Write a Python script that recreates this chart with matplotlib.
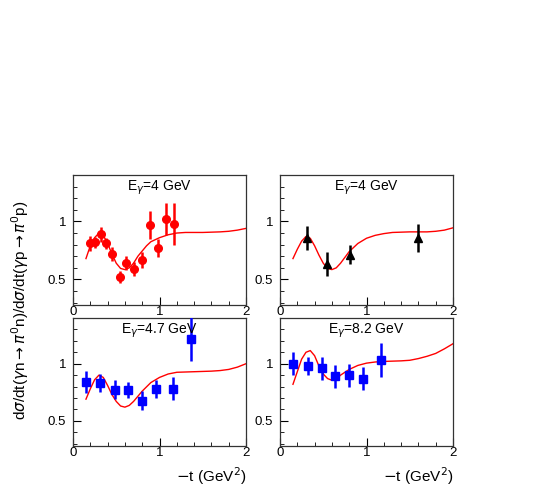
import numpy as np
import matplotlib.pyplot as plt
from matplotlib.ticker import MultipleLocator

# data points: -t, ratio, error
x_tl = [0.2, 0.26, 0.32, 0.385, 0.45, 0.54, 0.615, 0.71, 0.8, 0.885, 0.98, 1.07, 1.17]
y_tl = [0.81, 0.82, 0.89, 0.81, 0.72, 0.52, 0.64, 0.59, 0.67, 0.97, 0.77, 1.02, 0.98]
e_tl = [0.065, 0.05, 0.065, 0.05, 0.06, 0.05, 0.06, 0.06, 0.07, 0.12, 0.08, 0.14, 0.18]

x_tr = [0.31, 0.54, 0.81, 1.6]
y_tr = [0.857, 0.634, 0.714, 0.857]
e_tr = [0.1, 0.1, 0.085, 0.12]

x_bl = [0.154, 0.315, 0.48, 0.635, 0.8, 0.96, 1.16, 1.365]
y_bl = [0.84, 0.83, 0.774, 0.774, 0.678, 0.78, 0.78, 1.22]
e_bl = [0.1, 0.08, 0.08, 0.07, 0.08, 0.08, 0.1, 0.2]

x_br = [0.154, 0.32, 0.48, 0.64, 0.8, 0.96, 1.165]
y_br = [1.0, 0.98, 0.96, 0.89, 0.9, 0.87, 1.03]
e_br = [0.1, 0.08, 0.1, 0.1, 0.1, 0.1, 0.15]

# model curves
cx_tl = [0.15, 0.2, 0.25, 0.3, 0.35, 0.4, 0.45, 0.5, 0.55, 0.6, 0.65, 0.7, 0.75, 0.8, 0.85, 0.9, 1.0, 1.1, 1.2, 1.3, 1.5, 1.7, 1.8, 1.9, 2.0]
cy_tl = [0.68, 0.79, 0.86, 0.9, 0.88, 0.81, 0.72, 0.64, 0.595, 0.585, 0.6, 0.64, 0.7, 0.745, 0.79, 0.825, 0.86, 0.885, 0.9, 0.905, 0.905, 0.91, 0.915, 0.925, 0.94]

cx_tr = [0.15, 0.2, 0.25, 0.3, 0.35, 0.4, 0.45, 0.5, 0.55, 0.6, 0.65, 0.7, 0.75, 0.8, 0.9, 1.0, 1.1, 1.2, 1.3, 1.5, 1.7, 1.8, 1.9, 2.0]
cy_tr = [0.68, 0.76, 0.83, 0.87, 0.855, 0.79, 0.71, 0.64, 0.595, 0.585, 0.6, 0.64, 0.69, 0.74, 0.81, 0.855, 0.88, 0.895, 0.905, 0.91, 0.91, 0.915, 0.925, 0.945]

cx_bl = [0.15, 0.2, 0.25, 0.3, 0.35, 0.4, 0.45, 0.5, 0.55, 0.6, 0.65, 0.7, 0.8, 0.9, 1.0, 1.1, 1.2, 1.4, 1.6, 1.7, 1.8, 1.9, 2.0]
cy_bl = [0.69, 0.78, 0.86, 0.9, 0.88, 0.81, 0.73, 0.67, 0.63, 0.62, 0.635, 0.67, 0.76, 0.835, 0.88, 0.91, 0.925, 0.93, 0.935, 0.94, 0.95, 0.97, 1.0]

cx_br = [0.15, 0.2, 0.25, 0.3, 0.35, 0.4, 0.45, 0.5, 0.55, 0.6, 0.65, 0.7, 0.8, 0.9, 1.0, 1.1, 1.2, 1.4, 1.5, 1.6, 1.7, 1.8, 1.9, 2.0]
cy_br = [0.82, 0.93, 1.04, 1.1, 1.115, 1.07, 0.98, 0.91, 0.87, 0.855, 0.865, 0.9, 0.95, 0.985, 1.005, 1.015, 1.02, 1.025, 1.03, 1.045, 1.065, 1.09, 1.13, 1.175]

titles = [r"E$_\gamma$=4 GeV", r"E$_\gamma$=4 GeV", r"E$_\gamma$=4.7 GeV", r"E$_\gamma$=8.2 GeV"]

plt.rcParams['font.family'] = ['Liberation Sans', 'DejaVu Sans']
plt.rcParams['mathtext.fontset'] = 'dejavusans'

fig = plt.figure(figsize=(5.45, 4.91), dpi=100)
W, H = 545.0, 491.0
boxes = [(73, 175, 246, 305), (280, 175, 453, 305), (73, 318, 246, 446), (280, 318, 453, 446)]
axes = []
for (x0, y0, x1, y1) in boxes:
    axes.append(fig.add_axes([x0 / W, 1 - y1 / H, (x1 - x0) / W, (y1 - y0) / H]))

panels = [
    (x_tl, y_tl, e_tl, cx_tl, cy_tl, 'o', 'red', 5.5),
    (x_tr, y_tr, e_tr, cx_tr, cy_tr, '^', 'black', 5.5),
    (x_bl, y_bl, e_bl, cx_bl, cy_bl, 's', 'blue', 5.5),
    (x_br, y_br, e_br, cx_br, cy_br, 's', 'blue', 5.5),
]

for ax, (x, y, e, cx, cy, m, c, ms), t in zip(axes, panels, titles):
    ax.plot(cx, cy, color='red', lw=1.0, zorder=2)
    ax.errorbar(x, y, yerr=e, fmt=m, color=c, ms=ms, elinewidth=1.8, capsize=0, zorder=3)
    ax.set_xlim(0, 2)
    ax.set_ylim(0.28, 1.4)
    ax.xaxis.set_major_locator(MultipleLocator(1))
    ax.xaxis.set_minor_locator(MultipleLocator(0.2))
    ax.yaxis.set_major_locator(MultipleLocator(0.5))
    ax.yaxis.set_minor_locator(MultipleLocator(0.1))
    ax.tick_params(which='both', direction='in', top=False, right=False, labelsize=9.5)
    ax.tick_params(which='major', length=6)
    ax.tick_params(which='minor', length=3)
    ax.tick_params(axis='x', pad=1)
    ax.tick_params(axis='y', pad=5)
    ax.set_yticks([0.5, 1])
    ax.set_yticklabels(['0.5', '1'])
    for s in ax.spines.values():
        s.set_linewidth(0.9)
        s.set_color('#333333')
    ax.text(0.5, 0.9, t, transform=ax.transAxes, ha='center', va='center', fontsize=10)

for ax in axes[2:]:
    ax.set_xlabel(r"$-$t (GeV$^2$)", fontsize=11, loc='right')

fig.text(20 / W, 1 - 310 / H, r"d$\sigma$/dt($\gamma$n$\rightarrow\pi^0$n)/d$\sigma$/dt($\gamma$p$\rightarrow\pi^0$p)",
         rotation=90, ha='center', va='center', fontsize=11)

fig.savefig('out.png', dpi=100)
